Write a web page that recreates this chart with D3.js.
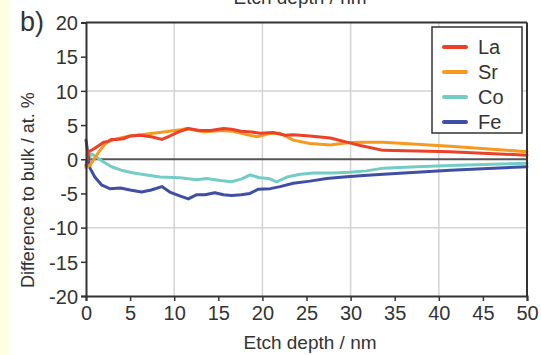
<!DOCTYPE html>
<html><head><meta charset="utf-8">
<script src="https://cdn.jsdelivr.net/npm/d3@7"></script>
<style>html,body{margin:0;padding:0;background:#fff;}svg{display:block;font-family:"Liberation Sans",Arial,sans-serif;}</style>
</head><body>
<svg id="c" width="541" height="355"></svg>
<script>
const xTicks = [0,5,10,15,20,25,30,35,40,45,50];
const yTicks = [20,15,10,5,0,-5,-10,-15,-20];
const xGrid = [10,20,30,40];
const yGrid = [10,-10];
const seriesNames = ["La","Sr","Co","Fe"];
const seriesColors = ["#EC4126","#F8991F","#74CCC7","#3F4FA3"];

const laDepth = [0,0.3,1.0,2.0,2.5,2.9,3.5,4.2,5.0,6.1,7.4,8.6,9.5,10.5,11.6,12.9,14.1,15.6,16.5,17.6,18.8,19.7,21.2,22.6,23.5,25.4,27.7,29.9,31.1,33.7,37.5,41.3,50];
const laValue = [-0.9,1.1,1.6,2.5,2.6,2.9,2.9,3.0,3.4,3.5,3.3,2.9,3.4,4.0,4.5,4.2,4.2,4.5,4.4,4.1,4.0,3.8,3.9,3.5,3.6,3.4,3.1,2.4,2.0,1.3,1.2,1.1,0.6];

const srDepth = [0,0.45,1.2,2.0,2.5,3.5,5.0,6.9,8.8,10.7,11.4,13.3,15.2,16.7,18.2,19.4,20.9,22,23.5,25.4,27.7,29.6,31.1,33.7,37.5,41.3,50];
const srValue = [-1.2,-0.9,0.6,2.0,2.6,3.0,3.4,3.7,4.0,4.3,4.5,4.0,4.2,4.1,3.6,3.3,3.8,3.8,2.8,2.3,2.1,2.4,2.5,2.5,2.2,1.9,1.1];

const coDepth = [0,0.6,1.2,2.0,2.9,4.0,5.4,6.9,8.4,10.7,12.5,13.7,15.2,16.5,17.6,18.6,19.7,20.7,21.6,22.8,24.3,25.8,28.0,29.9,31.8,33.7,37.5,41.3,50];
const coValue = [-1.1,0.8,0.3,-0.4,-1.1,-1.6,-2.0,-2.3,-2.6,-2.7,-3.0,-2.8,-3.1,-3.3,-2.9,-2.3,-2.7,-2.8,-3.3,-2.6,-2.2,-2.0,-2.0,-1.9,-1.7,-1.3,-1.1,-0.9,-0.6];

const feDepth = [0,0.45,1.0,1.8,2.7,3.9,5.0,6.3,7.4,8.6,9.5,10.7,11.6,12.5,13.5,14.6,15.6,16.5,17.6,18.6,19.5,20.9,22,23.5,25.4,27.3,29.2,31.1,33.7,37.5,41.3,50];
const feValue = [2.8,-1.3,-2.6,-3.8,-4.3,-4.2,-4.5,-4.8,-4.5,-4.0,-4.8,-5.4,-5.8,-5.2,-5.2,-4.9,-5.2,-5.3,-5.2,-5.0,-4.4,-4.3,-4.0,-3.5,-3.2,-2.8,-2.6,-2.4,-2.2,-1.9,-1.6,-1.1];

const svg = d3.select("#c");
const L = 86, R = 527, T = 22.5, B = 296;
const x = d3.scaleLinear().domain([0,50]).range([L,R]);
const y = d3.scaleLinear().domain([-20,20]).range([B,T]);
const axisColor = "#333";

// yellow strip
svg.append("rect").attr("x",0).attr("y",0).attr("width",9).attr("height",355).attr("fill","#FEFEE0");

// top title, cut by the edge as in the source figure
svg.append("text").attr("x",300).attr("y",4).attr("text-anchor","middle")
  .attr("font-size",19).attr("fill","#333").text("Etch depth / nm");

// grid
svg.append("g").selectAll("line").data(xGrid).join("line")
  .attr("x1",d=>x(d)).attr("x2",d=>x(d)).attr("y1",T).attr("y2",B)
  .attr("stroke","#d3d3d3").attr("stroke-width",1.5);
svg.append("g").selectAll("line").data(yGrid).join("line")
  .attr("x1",L).attr("x2",R).attr("y1",d=>y(d)).attr("y2",d=>y(d))
  .attr("stroke","#d3d3d3").attr("stroke-width",1.5);

// zero line
svg.append("line").attr("x1",L).attr("x2",R).attr("y1",y(0)).attr("y2",y(0))
  .attr("stroke","#555").attr("stroke-width",2);

// series
const series = [
  {name:"Co", d:coDepth, v:coValue},
  {name:"Fe", d:feDepth, v:feValue},
  {name:"Sr", d:srDepth, v:srValue},
  {name:"La", d:laDepth, v:laValue}
];
const color = d3.scaleOrdinal().domain(seriesNames).range(seriesColors);
const line = d3.line().x(p=>x(p[0])).y(p=>y(p[1]));
svg.append("g").selectAll("path").data(series).join("path")
  .attr("d",s=>line(s.d.map((dd,i)=>[dd,s.v[i]])))
  .attr("fill","none").attr("stroke",s=>color(s.name))
  .attr("stroke-width",3).attr("stroke-linejoin","round").attr("stroke-linecap","round");

// frame top/right
svg.append("line").attr("x1",L).attr("x2",R).attr("y1",T).attr("y2",T).attr("stroke",axisColor).attr("stroke-width",2);
svg.append("line").attr("x1",R).attr("x2",R).attr("y1",T).attr("y2",B).attr("stroke",axisColor).attr("stroke-width",2);

// axes
const fmt = d => String(d);
const xAxis = svg.append("g").attr("transform",`translate(0,${B})`)
  .call(d3.axisBottom(x).tickValues(xTicks).tickSize(5).tickPadding(5).tickFormat(fmt));
const yAxis = svg.append("g").attr("transform",`translate(${L},0)`)
  .call(d3.axisLeft(y).tickValues(yTicks).tickSize(5).tickPadding(3).tickFormat(fmt));
[xAxis,yAxis].forEach(g=>{
  g.select(".domain").attr("stroke",axisColor).attr("stroke-width",2);
  g.selectAll(".tick line").attr("stroke",axisColor).attr("stroke-width",1.5);
  g.selectAll(".tick text").attr("fill","#333").attr("font-size",20)
    .attr("font-family","'Liberation Sans',Arial,sans-serif");
});
yAxis.selectAll(".tick text").attr("dy","0.36em");

// axis titles
svg.append("text").attr("x",310).attr("y",349).attr("text-anchor","middle")
  .attr("font-size",19).attr("fill","#333").text("Etch depth / nm");
svg.append("text").attr("transform","translate(34,190) rotate(-90)").attr("text-anchor","middle")
  .attr("font-size",18).attr("fill","#333").text("Difference to bulk / at. %");

// panel label
svg.append("text").attr("x",20).attr("y",31).attr("font-size",27).attr("fill","#333").text("b)");

// legend
const lg = svg.append("g");
lg.append("rect").attr("x",432).attr("y",27).attr("width",90).attr("height",106)
  .attr("fill","#fff").attr("stroke",axisColor).attr("stroke-width",1.5);
const items = lg.selectAll("g").data(seriesNames).join("g")
  .attr("transform",(d,i)=>`translate(0,${47+i*25})`);
items.append("line").attr("x1",444).attr("x2",466).attr("y1",0).attr("y2",0)
  .attr("stroke",d=>color(d)).attr("stroke-width",4).attr("stroke-linecap","round");
items.append("text").attr("x",478).attr("y",0).attr("dy","0.36em")
  .attr("font-size",20).attr("fill","#333").text(d=>d);
</script>
</body></html>
